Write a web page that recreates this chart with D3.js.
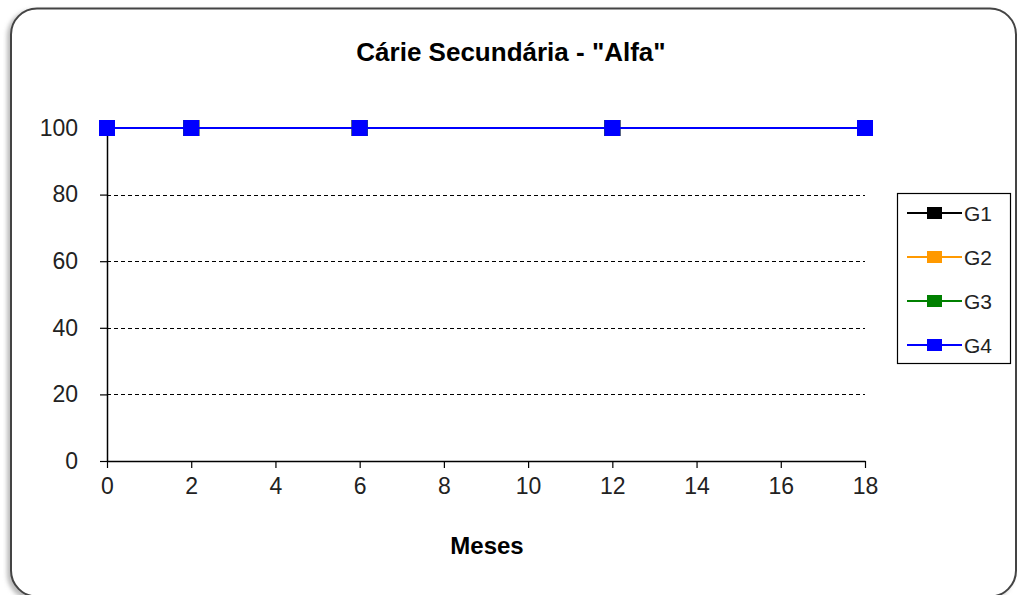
<!DOCTYPE html>
<html>
<head>
<meta charset="utf-8">
<script src="https://cdn.jsdelivr.net/npm/d3@7"></script>
<style>
  body { margin: 0; background: #fff; }
  svg { display: block; font-family: Arial, "Liberation Sans", sans-serif; }
</style>
</head>
<body>
<div class="chart"></div>
<script>
var meses = [0, 2, 6, 12, 18];
var g1 = [100, 100, 100, 100, 100];
var g2 = [100, 100, 100, 100, 100];
var g3 = [100, 100, 100, 100, 100];
var g4 = [100, 100, 100, 100, 100];
var seriesNames = ["G1", "G2", "G3", "G4"];
var seriesColors = ["#000000", "#ff9900", "#008000", "#0000ff"];
var xTicks = [0, 2, 4, 6, 8, 10, 12, 14, 16, 18];
var yTicks = [0, 20, 40, 60, 80, 100];

var svgWidth = 1020, svgHeight = 595;
var margin = { top: 128, left: 107, right: 155, bottom: 134 };
var width = svgWidth - margin.left - margin.right;
var height = svgHeight - margin.top - margin.bottom;

var svg = d3.select(".chart").append("svg")
    .attr("width", svgWidth)
    .attr("height", svgHeight);

// shadow + frame
var defs = svg.append("defs");
var blur = defs.append("filter").attr("id", "shadow").attr("x", "-5%").attr("y", "-5%").attr("width", "110%").attr("height", "110%");
blur.append("feGaussianBlur").attr("stdDeviation", 2);

svg.append("rect")
    .attr("x", 7).attr("y", 10).attr("width", 1006).attr("height", 590)
    .attr("rx", 26).attr("fill", "#bbb").attr("filter", "url(#shadow)");
svg.append("rect")
    .attr("x", 11).attr("y", 8.5).attr("width", 1005).attr("height", 588)
    .attr("rx", 26).attr("fill", "#fff").attr("stroke", "#444").attr("stroke-width", 2);

svg.append("text")
    .attr("x", 511).attr("y", 61)
    .attr("text-anchor", "middle")
    .attr("font-size", 26).attr("font-weight", "bold")
    .text('Cárie Secundária  - "Alfa"');

var g = svg.append("g").attr("transform", `translate(${margin.left},${margin.top})`);

var x = d3.scaleLinear().domain([0, 18]).range([0, width]);
var y = d3.scaleLinear().domain([0, 100]).range([height, 0]);

// gridlines
g.selectAll(".grid")
    .data(yTicks.filter(d => d > 0 && d < 100))
    .enter().append("line")
    .attr("x1", 0).attr("x2", width)
    .attr("y1", d => Math.round(y(d)) + 0.5).attr("y2", d => Math.round(y(d)) + 0.5)
    .attr("stroke", "#000").attr("stroke-width", 1)
    .attr("stroke-dasharray", "4,3");

var xAxis = g.append("g")
    .attr("transform", `translate(0,${height})`)
    .call(d3.axisBottom(x).tickValues(xTicks).tickSize(7).tickSizeOuter(0).tickPadding(10));
var yAxis = g.append("g")
    .call(d3.axisLeft(y).tickValues(yTicks).tickSize(7).tickSizeOuter(0).tickPadding(22));

[xAxis, yAxis].forEach(function (a) {
    a.select(".domain").attr("stroke", "#000").attr("stroke-width", 1.5);
    a.selectAll(".tick line").attr("stroke", "#000").attr("stroke-width", 1.2);
    a.selectAll(".tick text").attr("font-size", 23).attr("fill", "#222")
        .attr("font-family", "Arial, 'Liberation Sans', sans-serif");
});

svg.append("text")
    .attr("x", 487).attr("y", 554)
    .attr("text-anchor", "middle")
    .attr("font-size", 24).attr("font-weight", "bold")
    .text("Meses");

// series
var allSeries = [g1, g2, g3, g4].map(function (vals, i) {
    return { name: seriesNames[i], color: seriesColors[i], values: meses.map((m, j) => ({ x: m, y: vals[j] })) };
});

var line = d3.line().x(d => x(d.x)).y(d => y(d.y));

allSeries.forEach(function (s) {
    g.append("path").datum(s.values)
        .attr("d", line).attr("fill", "none")
        .attr("stroke", s.color).attr("stroke-width", 2);
    g.selectAll(null).data(s.values).enter().append("rect")
        .attr("x", d => x(d.x) - 8).attr("y", d => y(d.y) - 8)
        .attr("width", 16).attr("height", 16)
        .attr("fill", s.color);
});

// legend
var legend = svg.append("g").attr("transform", "translate(897,193)");
legend.append("rect")
    .attr("x", 0.5).attr("y", 0.5).attr("width", 113).attr("height", 170)
    .attr("fill", "#fff").attr("stroke", "#000").attr("stroke-width", 1.2);
var item = legend.selectAll(".item").data(allSeries).enter().append("g")
    .attr("transform", (d, i) => `translate(0,${20 + i * 44})`);
item.append("line").attr("x1", 10).attr("x2", 65).attr("y1", 0).attr("y2", 0)
    .attr("stroke", d => d.color).attr("stroke-width", 2);
item.append("rect").attr("x", 30).attr("y", -6).attr("width", 15).attr("height", 12)
    .attr("fill", d => d.color);
item.append("text").attr("x", 67).attr("y", 8)
    .attr("font-size", 21).attr("fill", "#222").text(d => d.name);
</script>
</body>
</html>
